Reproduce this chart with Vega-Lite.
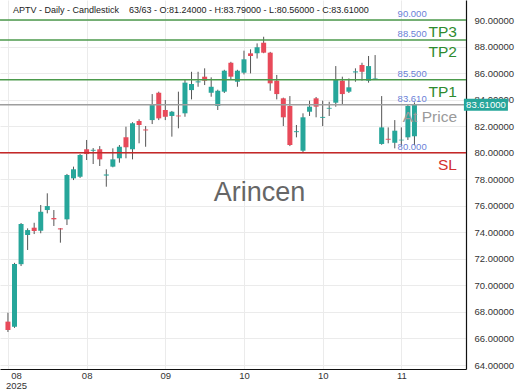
{
  "$schema": "https://vega.github.io/schema/vega-lite/v6.json",
  "width": 466,
  "height": 369,
  "autosize": {"type": "none"},
  "padding": {"left": 0, "top": 0, "right": 54, "bottom": 21},
  "config": {
    "view": {"stroke": null},
    "font": "Liberation Sans",
    "axis": {"labelFont": "Liberation Sans", "labelColor": "#333333", "labelFontSize": 9.5, "gridColor": "#ebebeb", "gridWidth": 1, "domainColor": "#111111", "domainWidth": 1.2, "ticks": false, "tickSize": 0, "labelOverlap": false}
  },
  "datasets": {
    "candles": [
      {"i": 0, "o": 67.27, "h": 67.94, "l": 66.49, "c": 66.64},
      {"i": 1, "o": 66.89, "h": 71.7, "l": 66.8, "c": 71.61},
      {"i": 2, "o": 71.6, "h": 74.7, "l": 71.46, "c": 74.63},
      {"i": 3, "o": 73.8, "h": 74.3, "l": 72.67, "c": 74.17},
      {"i": 4, "o": 74.35, "h": 74.72, "l": 73.87, "c": 74.1},
      {"i": 5, "o": 74.12, "h": 76.06, "l": 73.93, "c": 75.55},
      {"i": 6, "o": 75.68, "h": 76.94, "l": 75.43, "c": 75.98},
      {"i": 7, "o": 75.08, "h": 75.68, "l": 74.48, "c": 74.98},
      {"i": 8, "o": 74.3, "h": 74.32, "l": 73.22, "c": 74.22},
      {"i": 9, "o": 74.98, "h": 78.4, "l": 74.55, "c": 78.32},
      {"i": 10, "o": 78.07, "h": 78.95, "l": 77.94, "c": 78.75},
      {"i": 11, "o": 78.19, "h": 79.9, "l": 78.1, "c": 79.83},
      {"i": 12, "o": 80.26, "h": 80.96, "l": 79.45, "c": 79.9},
      {"i": 13, "o": 80.15, "h": 80.35, "l": 79.15, "c": 80.22},
      {"i": 14, "o": 80.26, "h": 80.5, "l": 79.0, "c": 79.5},
      {"i": 15, "o": 78.28, "h": 78.75, "l": 77.44, "c": 78.36},
      {"i": 16, "o": 78.95, "h": 80.33, "l": 78.9, "c": 79.5},
      {"i": 17, "o": 79.58, "h": 80.58, "l": 79.25, "c": 80.45},
      {"i": 18, "o": 81.16, "h": 81.96, "l": 79.58, "c": 80.41},
      {"i": 19, "o": 80.26, "h": 82.3, "l": 79.5, "c": 82.22},
      {"i": 20, "o": 82.39, "h": 82.52, "l": 80.71, "c": 82.09},
      {"i": 21, "o": 81.75, "h": 82.01, "l": 80.45, "c": 81.68},
      {"i": 22, "o": 82.46, "h": 84.42, "l": 82.16, "c": 83.6},
      {"i": 23, "o": 84.52, "h": 84.6, "l": 82.46, "c": 82.59},
      {"i": 24, "o": 83.22, "h": 83.97, "l": 82.46, "c": 82.71},
      {"i": 25, "o": 82.77, "h": 83.15, "l": 81.21, "c": 83.09},
      {"i": 26, "o": 82.8, "h": 84.6, "l": 81.84, "c": 82.74},
      {"i": 27, "o": 82.97, "h": 85.48, "l": 82.71, "c": 85.28},
      {"i": 28, "o": 84.72, "h": 86.1, "l": 84.02, "c": 85.18},
      {"i": 29, "o": 85.3, "h": 86.1, "l": 84.97, "c": 85.38},
      {"i": 30, "o": 85.73, "h": 86.36, "l": 85.1, "c": 85.43},
      {"i": 31, "o": 84.52, "h": 85.68, "l": 84.22, "c": 84.97},
      {"i": 32, "o": 83.52, "h": 84.75, "l": 83.22, "c": 84.67},
      {"i": 33, "o": 84.6, "h": 86.25, "l": 84.5, "c": 86.18},
      {"i": 34, "o": 86.78, "h": 86.85, "l": 85.48, "c": 85.73},
      {"i": 35, "o": 85.35, "h": 86.25, "l": 84.97, "c": 86.18},
      {"i": 36, "o": 86.03, "h": 87.69, "l": 85.9, "c": 87.04},
      {"i": 37, "o": 87.49, "h": 87.79, "l": 85.98, "c": 87.29},
      {"i": 38, "o": 87.49, "h": 88.24, "l": 87.1, "c": 87.94},
      {"i": 39, "o": 88.29, "h": 88.74, "l": 87.5, "c": 87.54},
      {"i": 40, "o": 87.54, "h": 87.6, "l": 84.67, "c": 85.23},
      {"i": 41, "o": 85.43, "h": 85.86, "l": 84.02, "c": 84.42},
      {"i": 42, "o": 84.1, "h": 84.15, "l": 82.01, "c": 82.67},
      {"i": 43, "o": 83.52, "h": 84.27, "l": 80.5, "c": 80.58},
      {"i": 44, "o": 81.55, "h": 82.09, "l": 81.16, "c": 81.62},
      {"i": 45, "o": 80.15, "h": 82.97, "l": 80.05, "c": 82.67},
      {"i": 46, "o": 83.09, "h": 83.92, "l": 82.77, "c": 83.47},
      {"i": 47, "o": 84.1, "h": 84.2, "l": 82.67, "c": 83.47},
      {"i": 48, "o": 82.63, "h": 83.92, "l": 82.01, "c": 82.7},
      {"i": 49, "o": 83.32, "h": 83.84, "l": 82.77, "c": 83.38},
      {"i": 50, "o": 83.77, "h": 86.53, "l": 83.47, "c": 85.48},
      {"i": 51, "o": 85.43, "h": 85.73, "l": 83.67, "c": 84.42},
      {"i": 52, "o": 84.6, "h": 85.6, "l": 84.5, "c": 84.93},
      {"i": 53, "o": 86.05, "h": 86.36, "l": 85.35, "c": 86.13},
      {"i": 54, "o": 86.61, "h": 86.78, "l": 85.43, "c": 86.1},
      {"i": 55, "o": 85.43, "h": 87.29, "l": 85.28, "c": 86.53},
      {"i": 56, "o": 85.58, "h": 87.36, "l": 85.53, "c": 85.62},
      {"i": 57, "o": 80.66, "h": 84.27, "l": 80.6, "c": 81.91},
      {"i": 58, "o": 81.05, "h": 81.91, "l": 80.71, "c": 80.98},
      {"i": 59, "o": 80.75, "h": 82.46, "l": 80.33, "c": 81.66},
      {"i": 60, "o": 80.93, "h": 81.91, "l": 80.5, "c": 80.98},
      {"i": 61, "o": 81.16, "h": 83.6, "l": 80.96, "c": 83.52},
      {"i": 62, "o": 81.24, "h": 83.79, "l": 80.56, "c": 83.61}
    ],
    "levels": [
      {"name": "TP3", "level": 90.0, "vl": "90.000"},
      {"name": "TP2", "level": 88.5, "vl": "88.500"},
      {"name": "TP1", "level": 85.5, "vl": "85.500"},
      {"name": "At Price", "level": 83.61, "vl": "83.610"},
      {"name": "SL", "level": 80.0, "vl": "80.000"}
    ],
    "last": [{"p": 83.61, "t": "83.61000"}],
    "one": [{"title": "APTV - Daily - Candlestick \u00a0\u00a0 63/63 - O:81.24000 - H:83.79000 - L:80.56000 - C:83.61000", "wm": "Arincen"}]
  },
  "layer": [
    {
      "data": {"name": "candles"},
      "mark": {"type": "rule", "color": "#555555", "strokeWidth": 1},
      "encoding": {
        "x": {"field": "i", "type": "quantitative", "title": null,
          "scale": {"domain": [-0.45, 69.1], "nice": false, "zero": false},
          "axis": {"values": [0, 12, 24, 36, 48, 60], "grid": true, "labelPadding": 1, "labelLineHeight": 10, "labelOverlap": false,
            "labelExpr": "datum.value == 0 ? ['08', '2025'] : datum.value == 12 ? '08' : datum.value == 24 ? '09' : datum.value <= 48 ? '10' : '11'",
            "labelOffset": {"condition": {"test": "datum.value == 0", "value": 8}, "value": 0},
            "labelBaseline": "top"}},
        "y": {"field": "l", "type": "quantitative", "title": null,
          "scale": {"domain": [63.7, 91.51], "nice": false, "zero": false},
          "axis": {"orient": "right", "values": [64, 66, 68, 70, 72, 74, 76, 78, 80, 82, 84, 86, 88, 90], "format": ".5f", "grid": true, "labelPadding": 8, "labelOverlap": false}},
        "y2": {"field": "h"}
      }
    },
    {
      "data": {"name": "candles"},
      "mark": {"type": "bar", "size": 5, "orient": "vertical"},
      "encoding": {
        "x": {"field": "i", "type": "quantitative", "title": null},
        "y": {"field": "o", "type": "quantitative", "title": null,
          "axis": {"orient": "right", "values": [64, 66, 68, 70, 72, 74, 76, 78, 80, 82, 84, 86, 88, 90], "format": ".5f", "grid": true, "labelPadding": 8, "labelOverlap": false}},
        "y2": {"field": "c"},
        "color": {"condition": {"test": "datum.c >= datum.o", "value": "#26a69a"}, "value": "#e84a5a"}
      }
    },
    {
      "data": {"name": "levels"},
      "mark": {"type": "rule", "strokeWidth": 1.4},
      "encoding": {
        "y": {"field": "level", "type": "quantitative", "title": null,
          "axis": {"orient": "right", "values": [64, 66, 68, 70, 72, 74, 76, 78, 80, 82, 84, 86, 88, 90], "format": ".5f", "grid": true, "labelPadding": 8, "labelOverlap": false}},
        "color": {"condition": [{"test": "datum.name == 'SL'", "value": "#c62828"}, {"test": "datum.name == 'At Price'", "value": "#9e9e9e"}], "value": "#4c9a4c"}
      }
    },
    {
      "data": {"name": "levels"},
      "mark": {"type": "text", "align": "right", "baseline": "top", "dx": -4, "dy": 5, "fontSize": 15.5},
      "encoding": {
        "x": {"datum": 69.1, "type": "quantitative", "title": null},
        "y": {"field": "level", "type": "quantitative", "title": null,
          "axis": {"orient": "right", "values": [64, 66, 68, 70, 72, 74, 76, 78, 80, 82, 84, 86, 88, 90], "format": ".5f", "grid": true, "labelPadding": 8, "labelOverlap": false}},
        "text": {"field": "name"},
        "color": {"condition": [{"test": "datum.name == 'SL'", "value": "#d32f2f"}, {"test": "datum.name == 'At Price'", "value": "#9a9a9a"}], "value": "#2e8b2e"}
      }
    },
    {
      "data": {"name": "levels"},
      "mark": {"type": "text", "align": "center", "baseline": "bottom", "dy": -1, "fontSize": 9.5, "color": "#6b7fd7"},
      "encoding": {
        "x": {"datum": 61.65, "type": "quantitative", "title": null},
        "y": {"field": "level", "type": "quantitative", "title": null,
          "axis": {"orient": "right", "values": [64, 66, 68, 70, 72, 74, 76, 78, 80, 82, 84, 86, 88, 90], "format": ".5f", "grid": true, "labelPadding": 8, "labelOverlap": false}},
        "text": {"field": "vl"}
      }
    },
    {
      "data": {"name": "one"},
      "mark": {"type": "text", "align": "center", "baseline": "middle", "fontSize": 27, "color": "#666666"},
      "encoding": {
        "x": {"datum": 38.36, "type": "quantitative", "title": null},
        "y": {"datum": 76.96, "type": "quantitative", "title": null,
          "axis": {"orient": "right", "values": [64, 66, 68, 70, 72, 74, 76, 78, 80, 82, 84, 86, 88, 90], "format": ".5f", "grid": true, "labelPadding": 8, "labelOverlap": false}},
        "text": {"field": "wm"}
      }
    },
    {
      "data": {"name": "one"},
      "mark": {"type": "text", "align": "left", "baseline": "middle", "dx": 8, "fontSize": 9, "color": "#222222"},
      "encoding": {
        "x": {"datum": -0.45, "type": "quantitative", "title": null},
        "y": {"datum": 90.75, "type": "quantitative", "title": null,
          "axis": {"orient": "right", "values": [64, 66, 68, 70, 72, 74, 76, 78, 80, 82, 84, 86, 88, 90], "format": ".5f", "grid": true, "labelPadding": 8, "labelOverlap": false}},
        "text": {"field": "title"}
      }
    },
    {
      "data": {"name": "last"},
      "mark": {"type": "point", "shape": "M-1,-0.273H1V0.273H-1Z", "filled": true, "opacity": 1, "size": 1936, "color": "#26a69a"},
      "encoding": {
        "x": {"datum": 72.9, "type": "quantitative", "title": null},
        "y": {"field": "p", "type": "quantitative", "title": null,
          "axis": {"orient": "right", "values": [64, 66, 68, 70, 72, 74, 76, 78, 80, 82, 84, 86, 88, 90], "format": ".5f", "grid": true, "labelPadding": 8, "labelOverlap": false}}
      }
    },
    {
      "data": {"name": "last"},
      "mark": {"type": "text", "align": "center", "baseline": "middle", "fontSize": 9.5, "color": "#ffffff"},
      "encoding": {
        "x": {"datum": 72.9, "type": "quantitative", "title": null},
        "y": {"field": "p", "type": "quantitative", "title": null,
          "axis": {"orient": "right", "values": [64, 66, 68, 70, 72, 74, 76, 78, 80, 82, 84, 86, 88, 90], "format": ".5f", "grid": true, "labelPadding": 8, "labelOverlap": false}},
        "text": {"field": "t"}
      }
    }
  ]
}
